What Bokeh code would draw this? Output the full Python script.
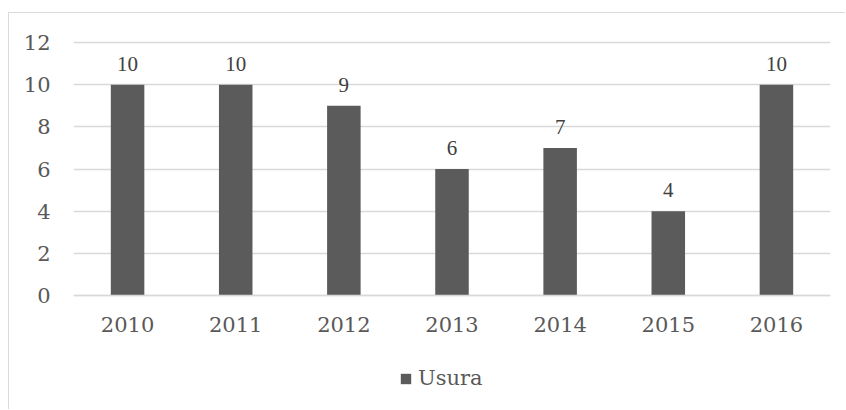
from bokeh.plotting import figure
from bokeh.models import ColumnDataSource, LabelSet, Legend, LegendItem, FixedTicker
from bokeh.embed import file_html
from bokeh.resources import INLINE

years = ["2010", "2011", "2012", "2013", "2014", "2015", "2016"]
usura = [10, 10, 9, 6, 7, 4, 10]
y_ticks = [0, 2, 4, 6, 8, 10, 12]
series_name = "Usura"

FONT = "DejaVu Serif"
FS = "21px"
src = ColumnDataSource(dict(x=years, top=usura, lbl=[str(v) for v in usura]))

# canvas origin placed at page (9, 13) by the CSS below; frame extends under the legend
p = figure(x_range=years, y_range=(-5.22, 12.1), width=837, height=397,
           output_backend="svg", toolbar_location=None,
           min_border_left=64, min_border_right=16, min_border_top=27, min_border_bottom=5)
p.styles = {"margin-left": "8px", "margin-top": "12px",
            "border-left": "1px solid #d9d9d9", "border-top": "1px solid #d9d9d9"}
p.outline_line_color = None
p.background_fill_color = "white"
p.border_fill_color = "white"

r = p.vbar(x="x", top="top", bottom=0, width=0.31, source=src, fill_color="#5b5b5b", line_color=None)

p.yaxis.ticker = FixedTicker(ticks=y_ticks)
p.yaxis.axis_line_color = None
p.yaxis.major_tick_line_color = None
p.yaxis.major_tick_out = 0
p.yaxis.minor_tick_line_color = None
p.yaxis.major_label_standoff = 23
p.yaxis.major_label_text_font = FONT
p.yaxis.major_label_text_font_size = FS
p.yaxis.major_label_text_color = "#595959"

p.xaxis.fixed_location = 0
p.xaxis.axis_line_color = "#d9d9d9"
p.xaxis.axis_line_width = 1.5
p.xaxis.major_tick_line_color = None
p.xaxis.major_tick_out = 0
p.xaxis.minor_tick_line_color = None
p.xaxis.major_label_standoff = 22
p.xaxis.major_label_text_font = FONT
p.xaxis.major_label_text_font_size = FS
p.xaxis.major_label_text_color = "#595959"

p.xgrid.grid_line_color = None
p.ygrid.grid_line_color = "#d9d9d9"
p.ygrid.grid_line_width = 1.5

labels = LabelSet(x="x", y="top", text="lbl", source=src, y_offset=14,
                  text_align="center", text_baseline="bottom",
                  text_font=FONT, text_font_size=FS, text_color="#404040")
p.add_layout(labels)

legend = Legend(items=[LegendItem(label=series_name, renderers=[r])],
                location=(326, 15), orientation="horizontal",
                glyph_width=13, glyph_height=13, label_standoff=6,
                padding=0, margin=0, spacing=0,
                label_text_font=FONT, label_text_font_size=FS,
                label_text_color="#595959",
                border_line_color=None, background_fill_alpha=0)
p.add_layout(legend, "center")

open("out.html", "w").write(file_html(p, INLINE))
